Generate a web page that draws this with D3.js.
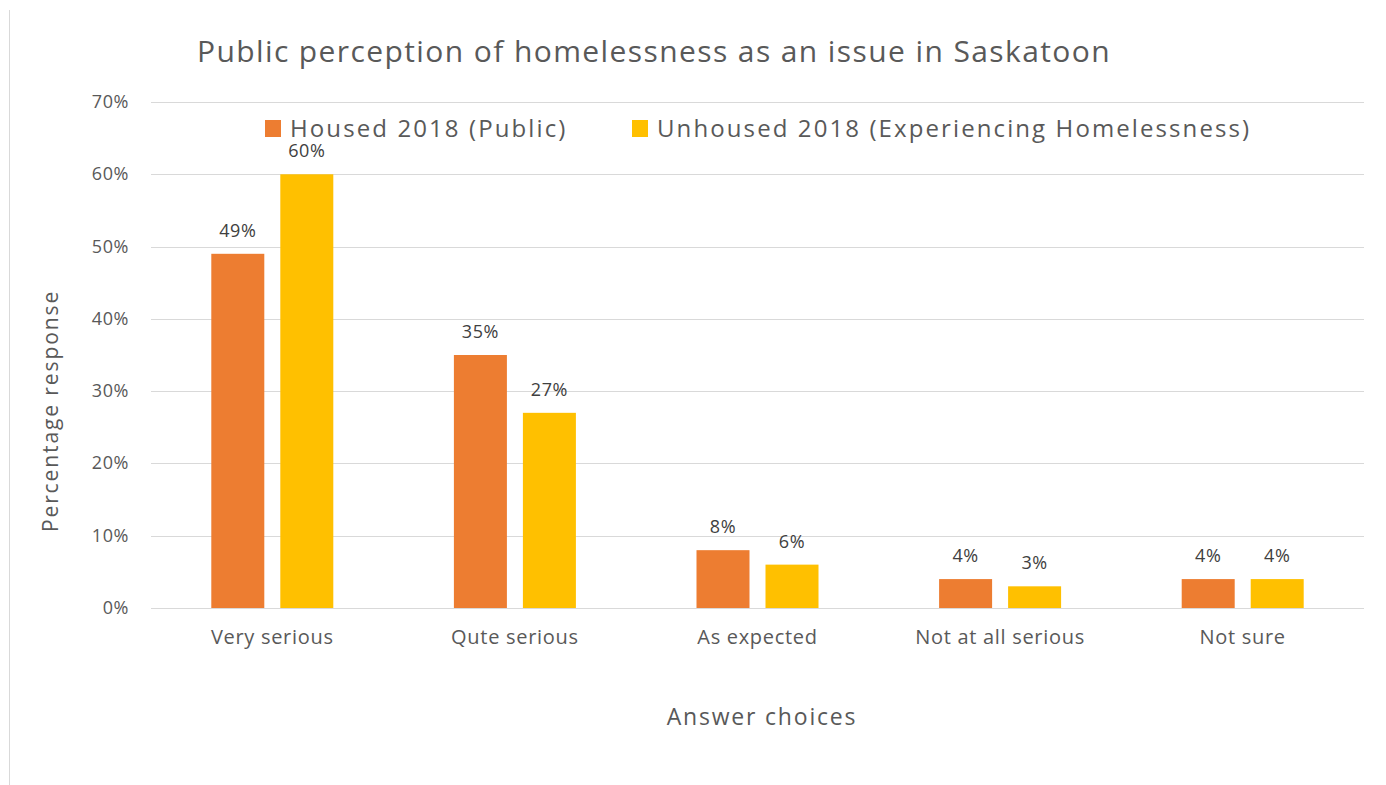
<!DOCTYPE html>
<meta charset="utf-8">
<script src="https://d3js.org/d3.v7.min.js"></script>
<style>
  body { margin: 0; background: #fff; }
  text { font-family: "Open Sans", "Noto Sans", sans-serif; fill: #595959; }
</style>
<div id="chart"></div>
<script>

// data
const categories = ["Very serious", "Qute serious", "As expected", "Not at all serious", "Not sure"]
const housed = [49, 35, 8, 4, 4]
const unhoused = [60, 27, 6, 3, 4]
const seriesNames = ["Housed 2018 (Public)", "Unhoused 2018 (Experiencing Homelessness)"]
const yTicks = [0, 10, 20, 30, 40, 50, 60, 70]
const colors = ["#ed7d31", "#ffc000"]

const W = 1386, H = 785
const plot = {left: 151, right: 1364, top: 102, bottom: 608}

const svg = d3.select("#chart").append("svg")
    .attr("width", W)
    .attr("height", H)

// left edge of the chart frame
svg.append("line")
    .attr("x1", 9.5).attr("x2", 9.5)
    .attr("y1", 10).attr("y2", H)
    .attr("stroke", "#d9d9d9")

const x = d3.scaleBand()
    .domain(categories)
    .range([plot.left, plot.right])

const y = d3.scaleLinear()
    .domain([0, 70])
    .range([plot.bottom, plot.top])

// gridlines
svg.append("g")
  .selectAll("line")
  .data(yTicks)
  .join("line")
    .attr("x1", plot.left).attr("x2", plot.right)
    .attr("y1", d => Math.round(y(d)) + 0.5)
    .attr("y2", d => Math.round(y(d)) + 0.5)
    .attr("stroke", "#d9d9d9")

// y tick labels
svg.append("g")
  .selectAll("text")
  .data(yTicks)
  .join("text")
    .attr("x", 129)
    .attr("y", d => y(d) + 6)
    .attr("text-anchor", "end")
    .style("font-size", "18px")
    .style("letter-spacing", "0.6px")
    .text(d => d + "%")

// bars
const barW = 53, gap = 16
const series = [housed, unhoused]
series.forEach((vals, i) => {
  const g = svg.append("g")
  const bx = (d, j) => x(categories[j]) + x.bandwidth() / 2 + (i === 0 ? -gap / 2 - barW : gap / 2)
  g.selectAll("rect")
    .data(vals)
    .join("rect")
      .attr("x", bx)
      .attr("y", d => y(d))
      .attr("width", barW)
      .attr("height", d => y(0) - y(d))
      .attr("fill", colors[i])
  g.selectAll("text")
    .data(vals)
    .join("text")
      .attr("x", (d, j) => bx(d, j) + barW / 2)
      .attr("y", d => y(d) - 17)
      .attr("text-anchor", "middle")
      .style("font-size", "18px")
      .style("letter-spacing", "0.6px")
      .style("fill", "#404040")
      .text(d => d + "%")
})

// x category labels
svg.append("g")
  .selectAll("text")
  .data(categories)
  .join("text")
    .attr("x", d => x(d) + x.bandwidth() / 2)
    .attr("y", 644)
    .attr("text-anchor", "middle")
    .style("font-size", "20px")
    .style("letter-spacing", "0.7px")
    .text(d => d)

// title
svg.append("text")
    .attr("x", 654)
    .attr("y", 62)
    .attr("text-anchor", "middle")
    .style("font-size", "30px")
    .style("letter-spacing", "1.4px")
    .text("Public perception of homelessness as an issue in Saskatoon")

// axis titles
svg.append("text")
    .attr("x", 762)
    .attr("y", 725)
    .attr("text-anchor", "middle")
    .style("font-size", "23px")
    .style("letter-spacing", "1.8px")
    .text("Answer choices")

svg.append("text")
    .attr("transform", "translate(58,411) rotate(-90)")
    .attr("text-anchor", "middle")
    .style("font-size", "21px")
    .style("letter-spacing", "1.9px")
    .text("Percentage response")

// legend
const legendX = [265, 632]
seriesNames.forEach((name, i) => {
  svg.append("rect")
      .attr("x", legendX[i])
      .attr("y", 120)
      .attr("width", 16)
      .attr("height", 17)
      .attr("fill", colors[i])
  svg.append("text")
      .attr("x", legendX[i] + 25)
      .attr("y", 137)
      .style("font-size", "24px")
      .style("letter-spacing", "2.1px")
      .text(name)
})

</script>
